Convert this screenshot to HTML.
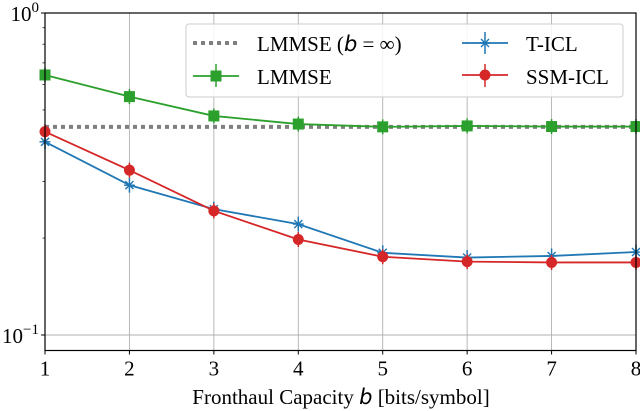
<!DOCTYPE html>
<html><head><meta charset="utf-8"><style>
html,body{margin:0;padding:0;background:#fff;}
svg{display:block;font-family:"Liberation Serif","DejaVu Serif",serif;}
</style></head><body>
<svg id="chart" width="640" height="411" viewBox="0 0 640 411"></svg>
<script>
const categories=[1,2,3,4,5,6,7,8];
const lmmseInf=0.443;
const lmmse=[0.642,0.55,0.479,0.452,0.443,0.446,0.444,0.444];
const ticl=[0.398,0.292,0.246,0.221,0.180,0.174,0.176,0.181];
const ssmicl=[0.428,0.325,0.243,0.198,0.175,0.169,0.168,0.168];
const xTickLabels=["1","2","3","4","5","6","7","8"];

const L=45,R=636,T=13,B=350.5;
const Y0=13,YD=322;
const xs=v=>L+(v-1)*(R-L)/7;
const ys=v=>Y0-Math.log10(v)*YD;
const svg=document.getElementById('chart');
const NS='http://www.w3.org/2000/svg';
function mk(tag,attrs,parent){const e=document.createElementNS(NS,tag);for(const k in attrs)e.setAttribute(k,attrs[k]);(parent||svg).appendChild(e);return e;}

const grid=mk('g',{});


categories.forEach(c=>{const l=mk('line',{x1:xs(c),x2:xs(c),y1:T,y2:B,stroke:'#b0b0b0','stroke-width':0.9},grid);

});
[0.1].forEach(v=>{const l=mk('line',{x1:L,x2:R,y1:ys(v),y2:ys(v),stroke:'#b0b0b0','stroke-width':0.9},grid);

});

for(let k=2;k<=9;k++){const v=k/10;const t=mk('line',{x1:L-2.5,x2:L,y1:ys(v),y2:ys(v),stroke:'#000','stroke-width':0.7});

}
const dl=mk('line',{x1:xs(1),x2:xs(8),y1:ys(lmmseInf),y2:ys(lmmseInf),stroke:'#7f7f7f','stroke-width':4,'stroke-dasharray':'4 4'});



function series(vals,color,name,marker){
  const g=mk('g',{});
  
  
  const pts=vals.map((v,i)=>xs(categories[i])+','+ys(v)).join(' ');
  mk('polyline',{points:pts,fill:'none',stroke:color,'stroke-width':1.8},g);
  vals.forEach((v,i)=>{
    const x=xs(categories[i]),y=ys(v);
    mk('line',{x1:x,x2:x,y1:y-7.5,y2:y+7.5,stroke:color,'stroke-width':1.5},g);
    let m;
    if(marker==='s') m=mk('rect',{x:x-5.5,y:y-5.5,width:11,height:11,fill:color},g);
    else if(marker==='o') m=mk('circle',{cx:x,cy:y,r:5.5,fill:color},g);
    else {m=mk('path',{d:`M${x-5.5},${y}H${x+5.5}M${x-4},${y-4}L${x+4},${y+4}M${x-4},${y+4}L${x+4},${y-4}`,stroke:color,'stroke-width':1.4,fill:'none'},g);}
    
    
  });
}
series(lmmse,'#2ca02c','lmmse','s');
series(ticl,'#1f77b4','t-icl','x');
series(ssmicl,'#d62728','ssm-icl','o');

const fr=mk('rect',{x:L,y:T,width:R-L,height:B-T,fill:'none',stroke:'#000','stroke-width':1.2});



categories.forEach((c,i)=>{mk('line',{x1:xs(c),x2:xs(c),y1:B,y2:B+4,stroke:'#000','stroke-width':1});
const t=mk('text',{x:xs(c),y:B+25,'text-anchor':'middle','font-size':21});t.textContent=xTickLabels[i];

});
[[1,'0'],[0.1,'−1']].forEach(([v,e])=>{mk('line',{x1:L-4,x2:L,y1:ys(v),y2:ys(v),stroke:'#000','stroke-width':1});
const t=mk('text',{x:L-6,y:ys(v)+8,'text-anchor':'end','font-size':21});
t.innerHTML='10<tspan dy="-9" font-size="15">'+e+'</tspan>';

});

const xt=mk('text',{x:341,y:404,'text-anchor':'middle','font-size':21});
xt.innerHTML='Fronthaul Capacity <tspan font-style="italic" font-family="DejaVu Sans, sans-serif">b</tspan> [bits/symbol]';



const lg=mk('g',{});


mk('rect',{x:186,y:24,width:437,height:73,rx:3,fill:'#fff','fill-opacity':0.85,stroke:'#ccc','stroke-width':1},lg);
mk('line',{x1:193,x2:239,y1:43,y2:43,stroke:'#7f7f7f','stroke-width':4,'stroke-dasharray':'4 4'},lg);
let t=mk('text',{x:257,y:51,'font-size':21},lg);t.innerHTML='LMMSE (<tspan font-style="italic" font-family="DejaVu Sans, sans-serif">b</tspan> = ∞)';


mk('line',{x1:193,x2:239,y1:76,y2:76,stroke:'#2ca02c','stroke-width':1.8},lg);
mk('line',{x1:216,x2:216,y1:64,y2:87,stroke:'#2ca02c','stroke-width':1.5},lg);
mk('rect',{x:210.5,y:70.5,width:11,height:11,fill:'#2ca02c'},lg);
t=mk('text',{x:257,y:84,'font-size':21},lg);t.textContent='LMMSE';


mk('line',{x1:462,x2:508,y1:43,y2:43,stroke:'#1f77b4','stroke-width':1.8},lg);
mk('line',{x1:485,x2:485,y1:32,y2:54,stroke:'#1f77b4','stroke-width':1.5},lg);
mk('path',{d:'M479.5,43H490.5M481,39L489,47M481,47L489,39',stroke:'#1f77b4','stroke-width':1.4},lg);
t=mk('text',{x:526,y:51,'font-size':21},lg);t.textContent='T-ICL';


mk('line',{x1:462,x2:508,y1:75,y2:75,stroke:'#d62728','stroke-width':1.8},lg);
mk('line',{x1:485,x2:485,y1:64,y2:87,stroke:'#d62728','stroke-width':1.5},lg);
mk('circle',{cx:485,cy:75,r:5.5,fill:'#d62728'},lg);
t=mk('text',{x:526,y:84,'font-size':21},lg);t.textContent='SSM-ICL';


</script>
</body></html>
